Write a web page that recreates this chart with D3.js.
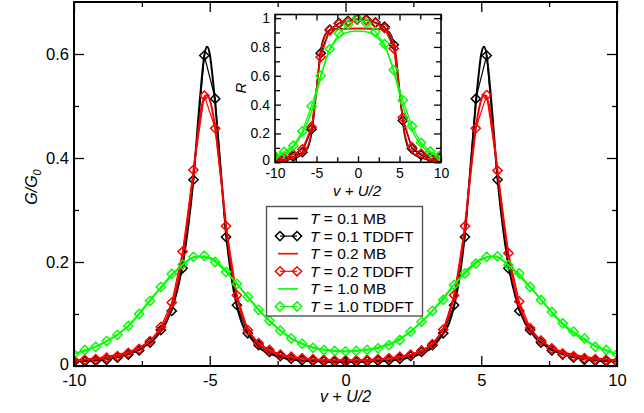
<!DOCTYPE html>
<html>
<head>
<meta charset="utf-8">
<script src="https://cdn.jsdelivr.net/npm/d3@7/dist/d3.min.js"></script>
<style>
  html, body { margin: 0; padding: 0; background: #fff; }
  svg { display: block; font-family: "Liberation Sans", Arial, Helvetica, sans-serif; }
  .tick line { stroke: #000; stroke-width: 1.3; }
</style>
</head>
<body>
<svg id="chart" width="644" height="413"></svg>
<script>
// ---- main panel: conductance G/G0 vs v + U/2 ----
const mainXTicks = [-10, -5, 0, 5, 10];
const mainXMinor = [-7.5, -2.5, 2.5, 7.5];
const mainYTicks = [0, 0.2, 0.4, 0.6];
const mainYMinor = [0.1, 0.3, 0.5];
const mainYLabels = ["0", "0.2", "0.4", "0.6"];

// TDDFT sample points
const tdX = [-10, -9.6, -9.2, -8.8, -8.4, -8.0, -7.6, -7.2, -6.8, -6.4, -6.0, -5.6, -5.2, -4.8, -4.4, -4.0, -3.6, -3.2, -2.8, -2.4, -2.0, -1.6, -1.2, -0.8, -0.4, 0,
             0.4, 0.8, 1.2, 1.6, 2.0, 2.4, 2.8, 3.2, 3.6, 4.0, 4.4, 4.8, 5.2, 5.6, 6.0, 6.4, 6.8, 7.2, 7.6, 8.0, 8.4, 8.8, 9.2, 9.6, 10];
const tdT01 = [0.008, 0.009, 0.010, 0.012, 0.016, 0.022, 0.030, 0.045, 0.069, 0.106, 0.188, 0.358, 0.597, 0.514, 0.248, 0.117, 0.063, 0.040, 0.027, 0.019, 0.014, 0.011, 0.010, 0.009, 0.008, 0.008,
               0.008, 0.009, 0.010, 0.011, 0.014, 0.019, 0.027, 0.040, 0.063, 0.117, 0.248, 0.514, 0.597, 0.358, 0.188, 0.106, 0.069, 0.045, 0.030, 0.022, 0.016, 0.012, 0.010, 0.009, 0.008];
const tdT02 = [0.011, 0.012, 0.013, 0.016, 0.019, 0.025, 0.033, 0.048, 0.075, 0.122, 0.220, 0.377, 0.520, 0.457, 0.269, 0.136, 0.069, 0.044, 0.031, 0.022, 0.018, 0.015, 0.013, 0.012, 0.011, 0.011,
               0.011, 0.012, 0.013, 0.015, 0.018, 0.022, 0.030, 0.042, 0.070, 0.136, 0.269, 0.457, 0.521, 0.376, 0.217, 0.124, 0.073, 0.049, 0.034, 0.024, 0.019, 0.015, 0.013, 0.012, 0.009];
const tdT10 = [0.023, 0.031, 0.037, 0.048, 0.060, 0.077, 0.100, 0.125, 0.152, 0.177, 0.195, 0.210, 0.212, 0.200, 0.181, 0.158, 0.133, 0.108, 0.087, 0.068, 0.053, 0.043, 0.035, 0.031, 0.029, 0.028,
               0.029, 0.031, 0.034, 0.040, 0.050, 0.066, 0.085, 0.106, 0.127, 0.156, 0.178, 0.197, 0.210, 0.211, 0.194, 0.178, 0.152, 0.127, 0.104, 0.082, 0.066, 0.053, 0.037, 0.031, 0.023];

// MB curves
const mbX = [-10, -9, -8, -7.5, -7, -6.6, -6.3, -6, -5.8, -5.6, -5.4, -5.3, -5.2, -5.1, -5, -4.9, -4.8, -4.6, -4.4, -4.2, -4, -3.8, -3.5, -3.2, -2.8, -2.4, -2, -1.5, -1, -0.5, 0,
             0.5, 1, 1.5, 2, 2.4, 2.8, 3.2, 3.5, 3.8, 4, 4.2, 4.4, 4.6, 4.8, 4.9, 5, 5.1, 5.2, 5.3, 5.4, 5.6, 5.8, 6, 6.3, 6.6, 7, 7.5, 8, 9, 10];
const mbT01 = [0.009, 0.014, 0.025, 0.035, 0.054, 0.084, 0.125, 0.195, 0.265, 0.360, 0.490, 0.550, 0.597, 0.614, 0.600, 0.558, 0.505, 0.380, 0.255, 0.170, 0.115, 0.080, 0.055, 0.036, 0.024, 0.017, 0.013, 0.010, 0.009, 0.008, 0.008,
               0.008, 0.009, 0.010, 0.013, 0.017, 0.024, 0.036, 0.055, 0.080, 0.115, 0.170, 0.255, 0.380, 0.505, 0.558, 0.600, 0.614, 0.597, 0.550, 0.490, 0.360, 0.265, 0.195, 0.125, 0.084, 0.054, 0.035, 0.025, 0.014, 0.009];
const mbT02 = [0.011, 0.016, 0.027, 0.038, 0.058, 0.090, 0.135, 0.215, 0.285, 0.375, 0.462, 0.498, 0.516, 0.521, 0.512, 0.490, 0.458, 0.370, 0.270, 0.190, 0.135, 0.096, 0.062, 0.043, 0.029, 0.021, 0.017, 0.014, 0.012, 0.011, 0.011,
               0.011, 0.012, 0.014, 0.017, 0.021, 0.029, 0.043, 0.062, 0.096, 0.135, 0.190, 0.270, 0.370, 0.458, 0.490, 0.512, 0.521, 0.516, 0.498, 0.462, 0.375, 0.285, 0.215, 0.135, 0.090, 0.058, 0.038, 0.027, 0.016, 0.011];
const mbX10 = [-10, -9, -8, -7, -6.5, -6, -5.5, -5, -4.5, -4, -3, -2, -1, 0, 1, 2, 3, 4, 4.5, 5, 5.5, 6, 6.5, 7, 8, 9, 10];
const mbT10 = [0.023, 0.042, 0.077, 0.139, 0.168, 0.195, 0.210, 0.208, 0.188, 0.158, 0.097, 0.053, 0.033, 0.028, 0.033, 0.052, 0.095, 0.156, 0.186, 0.206, 0.211, 0.194, 0.168, 0.140, 0.080, 0.044, 0.023];

// ---- inset: R vs v + U/2 ----
const insXTicks = [-10, -5, 0, 5, 10];
const insXMinor = [-7.5, -2.5, 2.5, 7.5];
const insYTicks = [0, 0.2, 0.4, 0.6, 0.8, 1];
const insYMinor = [0.1, 0.3, 0.5, 0.7, 0.9];
const insYLabels = ["0", "0.2", "0.4", "0.6", "0.8", "1"];

const insTdX = [-10, -8.9, -7.8, -6.7, -5.6, -4.5, -3.4, -2.3, -1.2, -0.1, 1.0, 2.1, 3.2, 4.3, 5.4, 6.5, 7.6, 8.7, 9.8];
const insTdT01 = [0.025, 0.020, 0.040, 0.070, 0.230, 0.757, 0.920, 0.965, 0.980, 0.995, 0.990, 0.970, 0.940, 0.815, 0.290, 0.095, 0.050, 0.030, 0.025];
const insTdT02 = [0.035, 0.030, 0.055, 0.090, 0.245, 0.730, 0.915, 0.960, 0.975, 0.990, 0.985, 0.965, 0.930, 0.790, 0.310, 0.105, 0.060, 0.040, 0.035];
const insTdT10 = [0.045, 0.072, 0.115, 0.215, 0.390, 0.600, 0.785, 0.895, 0.955, 1.000, 0.965, 0.905, 0.820, 0.640, 0.430, 0.250, 0.135, 0.075, 0.045];

const insMbX = [-10, -9, -8, -7, -6.5, -6, -5.5, -5, -4.5, -4, -3.5, -3, -2, -1, 0, 1, 2, 3, 3.5, 4, 4.5, 5, 5.5, 6, 6.5, 7, 8, 9, 10];
const insMbT01 = [0.008, 0.013, 0.024, 0.045, 0.065, 0.105, 0.230, 0.500, 0.780, 0.880, 0.915, 0.922, 0.927, 0.928, 0.928, 0.928, 0.927, 0.922, 0.915, 0.880, 0.780, 0.500, 0.230, 0.105, 0.065, 0.045, 0.024, 0.013, 0.008];
const insMbT02 = [0.010, 0.016, 0.028, 0.050, 0.072, 0.120, 0.250, 0.500, 0.760, 0.870, 0.910, 0.920, 0.925, 0.927, 0.928, 0.927, 0.925, 0.920, 0.910, 0.870, 0.760, 0.500, 0.250, 0.120, 0.072, 0.050, 0.028, 0.016, 0.010];
const insMbT10 = [0.035, 0.058, 0.095, 0.170, 0.225, 0.290, 0.370, 0.475, 0.590, 0.690, 0.770, 0.820, 0.880, 0.905, 0.910, 0.905, 0.880, 0.820, 0.770, 0.690, 0.590, 0.475, 0.370, 0.290, 0.225, 0.170, 0.095, 0.058, 0.035];

const legendLabels = ["0.1 MB", "0.1 TDDFT", "0.2 MB", "0.2 TDDFT", "1.0 MB", "1.0 TDDFT"];

const BLACK = "#000000", RED = "#ff0000", GREEN = "#00ff00";

const svg = d3.select("#chart");
const zip = (xs, ys) => xs.map((x, i) => [x, ys[i]]);

function diamondPath(r) {
  const p = d3.path();
  p.moveTo(0, -r); p.lineTo(r, 0); p.lineTo(0, r); p.lineTo(-r, 0); p.closePath();
  return p.toString();
}

function drawFrame(g, x, y, opts) {
  const [x0, x1] = x.range();
  const [y0, y1] = y.range();
  const fmtY = (d) => opts.yLabels[opts.yTicks.indexOf(d)];
  const fs = opts.fontSize;
  // major / minor ticks, all pointing inward
  const bottom = g.append("g").attr("transform", `translate(0,${y0})`)
    .call(d3.axisBottom(x).tickValues(opts.xTicks).tickSizeInner(-opts.major).tickSizeOuter(0).tickPadding(opts.xPad).tickFormat(d3.format("d")));
  g.append("g").attr("transform", `translate(0,${y0})`)
    .call(d3.axisBottom(x).tickValues(opts.xMinor).tickSizeInner(-opts.minor).tickSizeOuter(0).tickFormat(""));
  g.append("g").attr("transform", `translate(0,${y1})`)
    .call(d3.axisTop(x).tickValues(opts.xTicks).tickSizeInner(-opts.major).tickSizeOuter(0).tickFormat(""));
  g.append("g").attr("transform", `translate(0,${y1})`)
    .call(d3.axisTop(x).tickValues(opts.xMinor).tickSizeInner(-opts.minor).tickSizeOuter(0).tickFormat(""));
  const left = g.append("g").attr("transform", `translate(${x0},0)`)
    .call(d3.axisLeft(y).tickValues(opts.yTicks).tickSizeInner(-opts.major).tickSizeOuter(0).tickPadding(opts.yPad).tickFormat(fmtY));
  g.append("g").attr("transform", `translate(${x0},0)`)
    .call(d3.axisLeft(y).tickValues(opts.yMinor).tickSizeInner(-opts.minor).tickSizeOuter(0).tickFormat(""));
  g.append("g").attr("transform", `translate(${x1},0)`)
    .call(d3.axisRight(y).tickValues(opts.yTicks).tickSizeInner(-opts.yMajorR).tickSizeOuter(0).tickFormat(""));
  g.append("g").attr("transform", `translate(${x1},0)`)
    .call(d3.axisRight(y).tickValues(opts.yMinor).tickSizeInner(-opts.minor).tickSizeOuter(0).tickFormat(""));
  g.selectAll(".domain").remove();
  g.selectAll(".tick text").attr("fill", "#000").style("font-size", fs + "px")
    .style("font-family", "'Liberation Sans', Arial, sans-serif");
  bottom.selectAll(".tick text").text((d) => (d < 0 ? "-" + Math.abs(d) : String(d)));
  // lift the zero label on the value axis a little so it clears the category labels below
  left.selectAll(".tick text").filter((d) => d === 0).attr("dy", opts.zeroDy);
  g.append("rect").attr("x", x0).attr("y", y1).attr("width", x1 - x0).attr("height", y0 - y1)
    .attr("fill", "none").attr("stroke", "#000").attr("stroke-width", opts.frameWidth);
}

function drawSeries(g, x, y, xs, ys, color, lineWidth, curve) {
  const line = d3.line().x((d) => x(d[0])).y((d) => y(d[1])).curve(curve);
  g.append("path").datum(zip(xs, ys)).attr("d", line)
    .attr("fill", "none").attr("stroke", color).attr("stroke-width", lineWidth).attr("stroke-linejoin", "round");
}

function drawMarkers(g, x, y, xs, ys, color, lineWidth) {
  const pts = zip(xs, ys);
  g.append("path").datum(pts).attr("d", d3.line().x((d) => x(d[0])).y((d) => y(d[1])))
    .attr("fill", "none").attr("stroke", color).attr("stroke-width", lineWidth);
  g.selectAll(null).data(pts).join("path")
    .attr("transform", (d) => `translate(${x(d[0])},${y(d[1])})`)
    .attr("d", diamondPath(4.6))
    .attr("fill", "none").attr("stroke", color).attr("stroke-width", 1.5);
}

// ================= main panel =================
const x = d3.scaleLinear().domain([-10, 10]).range([74, 617]);
const y = d3.scaleLinear().domain([0, 0.7]).range([366, 2]);

svg.append("clipPath").attr("id", "mainClip").append("rect")
  .attr("x", 74).attr("y", 2).attr("width", 543).attr("height", 364);
const plot = svg.append("g").attr("clip-path", "url(#mainClip)");

const mono = d3.curveMonotoneX;
drawSeries(plot, x, y, mbX, mbT01, BLACK, 2, mono);
drawMarkers(plot, x, y, tdX, tdT01, BLACK, 1.2);
drawSeries(plot, x, y, mbX, mbT02, RED, 2, mono);
drawMarkers(plot, x, y, tdX, tdT02, RED, 1.2);
drawSeries(plot, x, y, mbX10, mbT10, GREEN, 2, mono);
drawMarkers(plot, x, y, tdX, tdT10, GREEN, 1.2);

drawFrame(svg.append("g"), x, y, {
  xTicks: mainXTicks, xMinor: mainXMinor, yTicks: mainYTicks, yMinor: mainYMinor, yLabels: mainYLabels,
  major: 10, minor: 5, yMajorR: 10, xPad: 8, yPad: 5, fontSize: 16.5, frameWidth: 2, zeroDy: "0.2em"
});

// axis titles
svg.append("text").attr("x", 345.5).attr("y", 401.5).attr("text-anchor", "middle")
  .style("font-size", "16px").style("font-style", "italic").text("v + U/2");
const yTitle = svg.append("text").attr("transform", "translate(37,187) rotate(-90)")
  .attr("text-anchor", "middle").style("font-size", "16px").style("font-style", "italic");
yTitle.append("tspan").text("G/G");
yTitle.append("tspan").attr("dy", 4).style("font-size", "11px").text("0");

// legend
const legend = svg.append("g");
legend.append("rect").attr("x", 266.5).attr("y", 206.5).attr("width", 156).attr("height", 109.5)
  .attr("fill", "#fff").attr("stroke", "#555").attr("stroke-width", 1.4);
const legendColors = [BLACK, BLACK, RED, RED, GREEN, GREEN];
legendLabels.forEach((lab, i) => {
  const cy = 218.5 + i * 17.6;
  const isTd = lab.includes("TDDFT");
  const row = legend.append("g");
  if (isTd) {
    row.append("line").attr("x1", 280).attr("x2", 297).attr("y1", cy).attr("y2", cy)
      .attr("stroke", legendColors[i]).attr("stroke-width", 1.2);
    [280, 297].forEach((px) => row.append("path").attr("transform", `translate(${px},${cy})`)
      .attr("d", diamondPath(4.6)).attr("fill", "none").attr("stroke", legendColors[i]).attr("stroke-width", 1.5));
  } else {
    row.append("line").attr("x1", 278).attr("x2", 298).attr("y1", cy).attr("y2", cy)
      .attr("stroke", legendColors[i]).attr("stroke-width", 1.6);
  }
  const t = row.append("text").attr("x", 310).attr("y", cy).attr("dy", "0.36em").style("font-size", "15.5px");
  t.append("tspan").style("font-style", "italic").text("T");
  t.append("tspan").text(" = " + lab);
});

// ================= inset =================
const ix = d3.scaleLinear().domain([-10, 10]).range([275, 441]);
const iy = d3.scaleLinear().domain([0, 1.025]).range([162.3, 14.5]);
svg.append("rect").attr("x", 275).attr("y", 14.5).attr("width", 166).attr("height", 147.8).attr("fill", "#fff");
svg.append("clipPath").attr("id", "insClip").append("rect")
  .attr("x", 275).attr("y", 14.5).attr("width", 166).attr("height", 147.8);
const inset = svg.append("g").attr("clip-path", "url(#insClip)");

drawSeries(inset, ix, iy, insMbX, insMbT01, BLACK, 1.5, mono);
drawMarkers(inset, ix, iy, insTdX, insTdT01, BLACK, 1.2);
drawSeries(inset, ix, iy, insMbX, insMbT02, RED, 1.5, mono);
drawMarkers(inset, ix, iy, insTdX, insTdT02, RED, 1.2);
drawSeries(inset, ix, iy, insMbX, insMbT10, GREEN, 1.5, mono);
drawMarkers(inset, ix, iy, insTdX, insTdT10, GREEN, 1.2);

drawFrame(svg.append("g"), ix, iy, {
  xTicks: insXTicks, xMinor: insXMinor, yTicks: insYTicks, yMinor: insYMinor, yLabels: insYLabels,
  major: 6, minor: 5, yMajorR: 7, xPad: 6, yPad: 5, fontSize: 14, frameWidth: 1.6, zeroDy: "0.15em"
});
svg.append("text").attr("x", 357).attr("y", 196).attr("text-anchor", "middle")
  .style("font-size", "15px").style("font-style", "italic").text("v + U/2");
svg.append("text").attr("transform", "translate(246,88) rotate(-90)").attr("text-anchor", "middle")
  .style("font-size", "15px").style("font-style", "italic").text("R");
</script>
</body>
</html>
